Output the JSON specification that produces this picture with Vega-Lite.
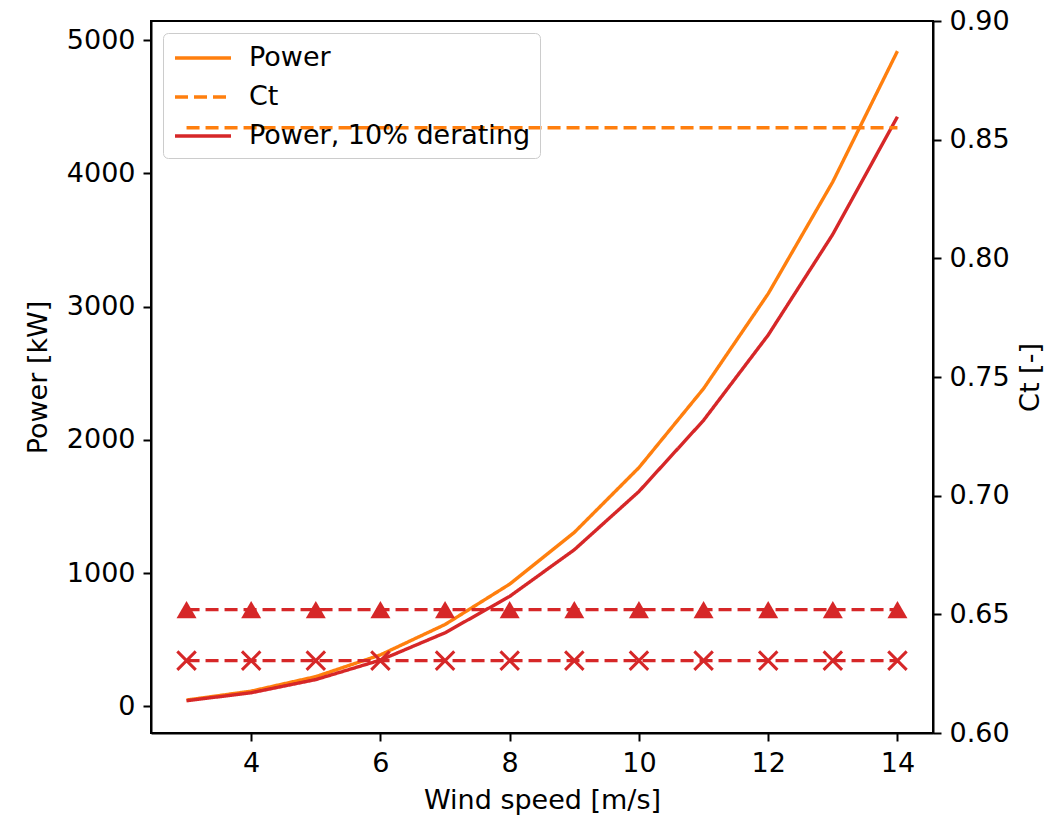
{
  "$schema": "https://vega.github.io/schema/vega-lite/v6.json",
  "width": 782,
  "height": 712,
  "autosize": "none",
  "padding": {"left": 151, "top": 21, "right": 131, "bottom": 84},
  "background": "white",
  "config": {
    "font": "DejaVu Sans",
    "view": {"stroke": "black", "strokeWidth": 2},
    "axis": {
      "grid": false,
      "domainColor": "black",
      "domainWidth": 2,
      "tickColor": "black",
      "tickWidth": 2,
      "tickSize": 8,
      "labelFontSize": 27,
      "labelColor": "black",
      "labelPadding": 8,
      "titleFontSize": 27,
      "titleFontWeight": "normal",
      "titleColor": "black"
    }
  },
  "datasets": {
    "power": [
      {"ws": 3, "value": 48, "series": "Power"},
      {"ws": 4, "value": 115, "series": "Power"},
      {"ws": 5, "value": 224, "series": "Power"},
      {"ws": 6, "value": 387, "series": "Power"},
      {"ws": 7, "value": 615, "series": "Power"},
      {"ws": 8, "value": 918, "series": "Power"},
      {"ws": 9, "value": 1306, "series": "Power"},
      {"ws": 10, "value": 1792, "series": "Power"},
      {"ws": 11, "value": 2385, "series": "Power"},
      {"ws": 12, "value": 3097, "series": "Power"},
      {"ws": 13, "value": 3937, "series": "Power"},
      {"ws": 14, "value": 4917, "series": "Power"},
      {"ws": 3, "value": 43, "series": "Power, 10% derating"},
      {"ws": 4, "value": 103, "series": "Power, 10% derating"},
      {"ws": 5, "value": 202, "series": "Power, 10% derating"},
      {"ws": 6, "value": 348, "series": "Power, 10% derating"},
      {"ws": 7, "value": 553, "series": "Power, 10% derating"},
      {"ws": 8, "value": 826, "series": "Power, 10% derating"},
      {"ws": 9, "value": 1176, "series": "Power, 10% derating"},
      {"ws": 10, "value": 1613, "series": "Power, 10% derating"},
      {"ws": 11, "value": 2147, "series": "Power, 10% derating"},
      {"ws": 12, "value": 2787, "series": "Power, 10% derating"},
      {"ws": 13, "value": 3543, "series": "Power, 10% derating"},
      {"ws": 14, "value": 4425, "series": "Power, 10% derating"}
    ],
    "ct": [
      {"ws": 3, "value": 0.855, "series": "Ct"},
      {"ws": 4, "value": 0.855, "series": "Ct"},
      {"ws": 5, "value": 0.855, "series": "Ct"},
      {"ws": 6, "value": 0.855, "series": "Ct"},
      {"ws": 7, "value": 0.855, "series": "Ct"},
      {"ws": 8, "value": 0.855, "series": "Ct"},
      {"ws": 9, "value": 0.855, "series": "Ct"},
      {"ws": 10, "value": 0.855, "series": "Ct"},
      {"ws": 11, "value": 0.855, "series": "Ct"},
      {"ws": 12, "value": 0.855, "series": "Ct"},
      {"ws": 13, "value": 0.855, "series": "Ct"},
      {"ws": 14, "value": 0.855, "series": "Ct"}
    ],
    "ctd": [
      {"ws": 3, "value": 0.652, "kind": "tri"},
      {"ws": 4, "value": 0.652, "kind": "tri"},
      {"ws": 5, "value": 0.652, "kind": "tri"},
      {"ws": 6, "value": 0.652, "kind": "tri"},
      {"ws": 7, "value": 0.652, "kind": "tri"},
      {"ws": 8, "value": 0.652, "kind": "tri"},
      {"ws": 9, "value": 0.652, "kind": "tri"},
      {"ws": 10, "value": 0.652, "kind": "tri"},
      {"ws": 11, "value": 0.652, "kind": "tri"},
      {"ws": 12, "value": 0.652, "kind": "tri"},
      {"ws": 13, "value": 0.652, "kind": "tri"},
      {"ws": 14, "value": 0.652, "kind": "tri"},
      {"ws": 3, "value": 0.6305, "kind": "x"},
      {"ws": 4, "value": 0.6305, "kind": "x"},
      {"ws": 5, "value": 0.6305, "kind": "x"},
      {"ws": 6, "value": 0.6305, "kind": "x"},
      {"ws": 7, "value": 0.6305, "kind": "x"},
      {"ws": 8, "value": 0.6305, "kind": "x"},
      {"ws": 9, "value": 0.6305, "kind": "x"},
      {"ws": 10, "value": 0.6305, "kind": "x"},
      {"ws": 11, "value": 0.6305, "kind": "x"},
      {"ws": 12, "value": 0.6305, "kind": "x"},
      {"ws": 13, "value": 0.6305, "kind": "x"},
      {"ws": 14, "value": 0.6305, "kind": "x"}
    ]
  },
  "encoding": {
    "x": {
      "field": "ws",
      "type": "quantitative",
      "scale": {"domain": [2.45, 14.55], "nice": false, "zero": false},
      "axis": {"values": [4, 6, 8, 10, 12, 14], "title": "Wind speed [m/s]", "labelPadding": 9, "titlePadding": 11}
    }
  },
  "layer": [
    {
      "data": {"name": "power"},
      "mark": {"type": "line", "strokeWidth": 3.4},
      "encoding": {
        "y": {
          "field": "value",
          "type": "quantitative",
          "scale": {"domain": [-199, 5143], "nice": false, "zero": false},
          "axis": {"values": [0, 1000, 2000, 3000, 4000, 5000], "format": "d", "title": "Power [kW]", "titlePadding": 14}
        },
        "color": {
          "field": "series",
          "type": "nominal",
          "scale": {"domain": ["Power", "Ct", "Power, 10% derating"], "range": ["#ff7f0e", "#ff7f0e", "#d62728"]},
          "legend": {
            "title": null,
            "orient": "none",
            "legendX": 12,
            "legendY": 12,
            "symbolType": "M-2,0L2,0",
            "symbolSize": 784,
            "symbolStrokeWidth": 3.4,
            "symbolOffset": 15,
            "labelFontSize": 27,
            "labelColor": "black",
            "labelLimit": 0,
            "labelOffset": 30,
            "rowPadding": 10,
            "padding": 9,
            "strokeColor": "#cccccc",
            "cornerRadius": 5,
            "fillColor": "rgba(255,255,255,0)"
          }
        },
        "strokeDash": {
          "field": "series",
          "type": "nominal",
          "scale": {"domain": ["Power", "Ct", "Power, 10% derating"], "range": [[1, 0], [13, 6], [1, 0]]},
          "legend": {
            "title": null,
            "orient": "none",
            "legendX": 12,
            "legendY": 12,
            "symbolType": "M-2,0L2,0",
            "symbolSize": 784,
            "symbolStrokeWidth": 3.4,
            "symbolOffset": 15,
            "labelFontSize": 27,
            "labelColor": "black",
            "labelLimit": 0,
            "labelOffset": 30,
            "rowPadding": 10,
            "padding": 9,
            "strokeColor": "#cccccc",
            "cornerRadius": 5,
            "fillColor": "rgba(255,255,255,0)"
          }
        }
      }
    },
    {
      "layer": [
        {
          "data": {"name": "ct"},
          "mark": {"type": "line", "strokeWidth": 3.4},
          "encoding": {
            "y": {
              "field": "value",
              "type": "quantitative",
              "scale": {"domain": [0.6, 0.9], "nice": false, "zero": false},
              "axis": {"orient": "right", "values": [0.6, 0.65, 0.7, 0.75, 0.8, 0.85, 0.9], "format": ".2f", "title": "Ct [-]", "titleAngle": 270, "titlePadding": 35}
            },
            "color": {"field": "series", "type": "nominal"},
            "strokeDash": {"field": "series", "type": "nominal"}
          }
        },
        {
          "data": {"name": "ctd"},
          "mark": {"type": "line", "strokeWidth": 3.4, "color": "#d62728", "strokeDash": [13, 6]},
          "encoding": {
            "y": {"field": "value", "type": "quantitative"},
            "detail": {"field": "kind", "type": "nominal"}
          }
        },
        {
          "data": {"name": "ctd"},
          "transform": [{"filter": "datum.kind === 'tri'"}],
          "mark": {"type": "point", "shape": "triangle-up", "filled": true, "size": 400, "color": "#d62728", "opacity": 1},
          "encoding": {
            "y": {"field": "value", "type": "quantitative"}
          }
        },
        {
          "data": {"name": "ctd"},
          "transform": [{"filter": "datum.kind === 'x'"}],
          "mark": {"type": "point", "shape": "M-1,-1L1,1M-1,1L1,-1", "filled": false, "size": 340, "strokeWidth": 3, "color": "#d62728", "opacity": 1},
          "encoding": {
            "y": {"field": "value", "type": "quantitative"}
          }
        }
      ]
    }
  ],
  "resolve": {"scale": {"y": "independent"}}
}
